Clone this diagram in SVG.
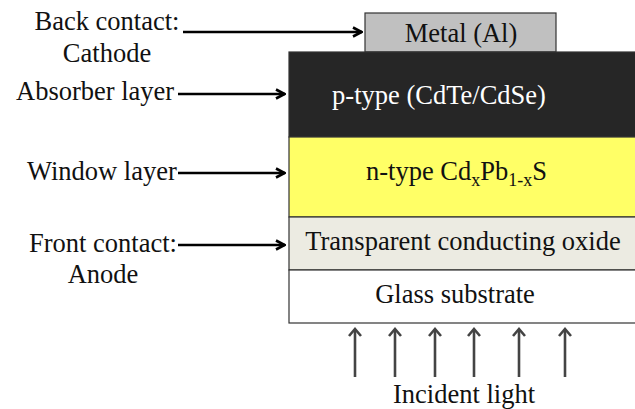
<svg xmlns="http://www.w3.org/2000/svg" width="635" height="409" viewBox="0 0 635 409">
<style>
text{font-family:'Liberation Serif',serif;font-size:26.5px;fill:#111;}
.c{text-anchor:middle;}
.layer{stroke:#333;stroke-width:1.2;}
.lbl{stroke:#000;stroke-width:2.4;fill:none;}
.light{stroke:#444;stroke-width:2.6;fill:none;}
</style>
<defs>
<marker id="ah" viewBox="0 0 12 12" refX="11" refY="6" markerWidth="12" markerHeight="12" orient="auto" markerUnits="userSpaceOnUse">
<path d="M2,1.5 L10.5,6 L2,10.5" fill="none" stroke="#000" stroke-width="2.6"/>
</marker>
<path id="lh" d="M-6,7 L0,0 L6,7" fill="none" stroke="#444" stroke-width="2.6"/>
</defs>
<rect width="635" height="409" fill="#fff"/>
<g id="metal"><rect class="layer" x="365" y="13" width="191" height="39" fill="#c0c0c0"/><text class="c" x="461" y="42">Metal (Al)</text></g>
<g id="absorber"><rect class="layer" x="289" y="52" width="350" height="85" fill="#262626"/><text class="c" x="439" y="104" style="fill:#fff">p-type (CdTe/CdSe)</text></g>
<g id="window"><rect class="layer" x="289" y="137" width="350" height="80" fill="#ffff66"/><text x="366" y="180">n-type Cd<tspan font-size="18" dy="6">x</tspan><tspan dy="-6">Pb</tspan><tspan font-size="18" dy="6">1-x</tspan><tspan dy="-6">S</tspan></text></g>
<g id="tco"><rect class="layer" x="289" y="217" width="350" height="53" fill="#ecebe2"/><text class="c" x="463" y="250">Transparent conducting oxide</text></g>
<g id="glass"><rect class="layer" x="289" y="270" width="350" height="53" fill="#fff"/><text class="c" x="455" y="303">Glass substrate</text></g>
<g id="labels">
<text class="c" x="107" y="30">Back contact:</text>
<text class="c" x="107" y="62">Cathode</text>
<text x="16" y="100">Absorber layer</text>
<text x="27" y="180">Window layer</text>
<text x="29" y="252">Front contact:</text>
<text class="c" x="103" y="283">Anode</text>
<text class="c" x="464" y="403">Incident light</text>
</g>
<g id="connectors">
<line class="lbl" x1="183" y1="32" x2="362" y2="32" marker-end="url(#ah)"/>
<line class="lbl" x1="178" y1="94" x2="285" y2="94" marker-end="url(#ah)"/>
<line class="lbl" x1="178" y1="173" x2="285" y2="173" marker-end="url(#ah)"/>
<line class="lbl" x1="178" y1="245" x2="285" y2="245" marker-end="url(#ah)"/>
<line class="light" x1="355" y1="377" x2="355" y2="330"/><use href="#lh" x="355" y="329"/>
<line class="light" x1="395" y1="377" x2="395" y2="330"/><use href="#lh" x="395" y="329"/>
<line class="light" x1="435" y1="377" x2="435" y2="330"/><use href="#lh" x="435" y="329"/>
<line class="light" x1="474" y1="377" x2="474" y2="330"/><use href="#lh" x="474" y="329"/>
<line class="light" x1="519" y1="377" x2="519" y2="330"/><use href="#lh" x="519" y="329"/>
<line class="light" x1="565" y1="377" x2="565" y2="330"/><use href="#lh" x="565" y="329"/>
</g>
</svg>
